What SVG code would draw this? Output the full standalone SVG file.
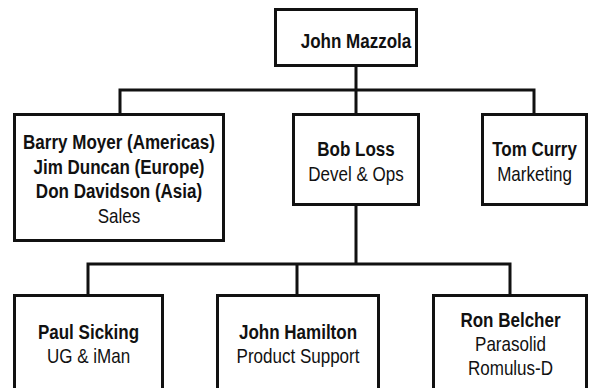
<svg xmlns="http://www.w3.org/2000/svg" width="589" height="388" viewBox="0 0 589 388">
<style>
.box{fill:#fff;stroke:#111;stroke-width:3}
.con{fill:none;stroke:#111;stroke-width:3;stroke-linejoin:miter;stroke-linecap:square}
text{font-family:"Liberation Sans",Arial,sans-serif;font-size:20.5px;fill:#111;text-anchor:middle}
.b{font-weight:bold}
</style>
<rect width="589" height="388" fill="#fff"/>
<g id="connectors">
<path class="con" d="M356 66V90M120 114V90H534V114M356 90V114"/>
<path class="con" d="M356 205V264M88 295V264H510V295M297 264V295"/>
</g>
<g id="n-mazzola">
<rect class="box" x="275.5" y="9.5" width="141" height="56"/>
<g transform="translate(356,0) scale(0.83,1)"><text class="b" x="0" y="48">John Mazzola</text></g>
</g>
<g id="n-sales">
<rect class="box" x="14.5" y="114.5" width="209" height="126"/>
<g transform="translate(119,0) scale(0.83,1)">
<text class="b" x="0" y="149.5">Barry Moyer (Americas)</text>
<text class="b" x="0" y="174">Jim Duncan (Europe)</text>
<text class="b" x="0" y="198.5">Don Davidson (Asia)</text>
<text x="0" y="223">Sales</text>
</g>
</g>
<g id="n-loss">
<rect class="box" x="293.5" y="114.5" width="125" height="90"/>
<g transform="translate(356,0) scale(0.83,1)">
<text class="b" x="0" y="156">Bob Loss</text>
<text x="0" y="181">Devel &amp; Ops</text>
</g>
</g>
<g id="n-curry">
<rect class="box" x="482.5" y="114.5" width="104" height="90"/>
<g transform="translate(534.5,0) scale(0.83,1)">
<text class="b" x="0" y="156">Tom Curry</text>
<text x="0" y="181">Marketing</text>
</g>
</g>
<g id="n-sicking">
<rect class="box" x="14.5" y="295.5" width="148" height="100"/>
<g transform="translate(88.5,0) scale(0.83,1)">
<text class="b" x="0" y="339">Paul Sicking</text>
<text x="0" y="363">UG &amp; iMan</text>
</g>
</g>
<g id="n-hamilton">
<rect class="box" x="217.5" y="295.5" width="161" height="100"/>
<g transform="translate(298,0) scale(0.83,1)">
<text class="b" x="0" y="339">John Hamilton</text>
<text x="0" y="363">Product Support</text>
</g>
</g>
<g id="n-belcher">
<rect class="box" x="433.5" y="295.5" width="153" height="100"/>
<g transform="translate(510.5,0) scale(0.83,1)">
<text class="b" x="0" y="327">Ron Belcher</text>
<text x="0" y="351">Parasolid</text>
<text x="0" y="375">Romulus-D</text>
</g>
</g>
</svg>
